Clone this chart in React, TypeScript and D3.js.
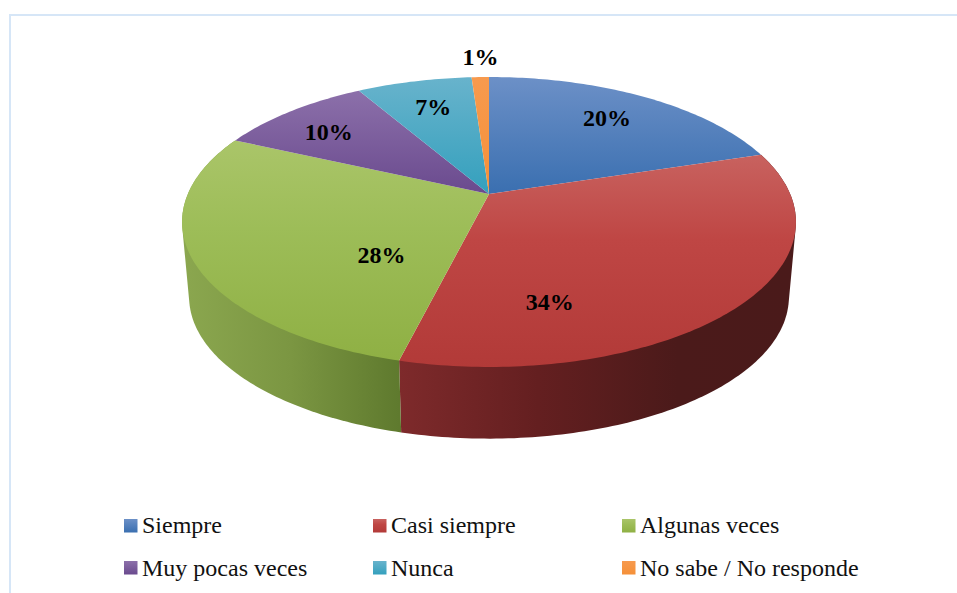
import React from "react";
import * as d3 from "d3";

const categories = ["Siempre", "Casi siempre", "Algunas veces", "Muy pocas veces", "Nunca", "No sabe / No responde"];
const values = [20.2, 33.7, 27.9, 9.8, 7.3, 1.1];
const valueLabels = ["20%", "34%", "28%", "10%", "7%", "1%"];

const topColors = [
  ["#6c90c7", "#3a6fb0"],
  ["#c8625f", "#b23a38"],
  ["#aac569", "#8fb044"],
  ["#8c70aa", "#6a4a8e"],
  ["#68b3cc", "#34a0bd"],
  ["#f79a4e", "#f59038"],
];
const wallStops: Record<number, [number, string][]> = {
  1: [[0, "#7e2a2b"], [0.35, "#641f20"], [0.7, "#4b1a1a"], [1, "#4a1a1a"]],
  2: [[0, "#8ba74f"], [0.5, "#7b9642"], [1, "#5f7a2e"]],
};
const labelNudge = [[20, -6], [-82, 54], [64, 31], [-36, -2], [-8, -7], [-3, -54]];

const W = 957, H = 593;
const cx = 489, apexY = 194;
const d = 5.18, kx = 1560, ky = 723;
const ellipseMidY = 222, wallDrop = 75, wallScale = 0.977;
const serif = "'Liberation Serif', 'Times New Roman', serif";

function proj(theta: number, r = 1): [number, number] {
  const x = r * Math.sin(theta), y = -r * Math.cos(theta);
  const den = d - y;
  return [cx + (kx * x) / den, apexY + (ky * y) / den];
}
function projBottom(theta: number): [number, number] {
  const [px, py] = proj(theta);
  return [cx + (px - cx) * wallScale, ellipseMidY + wallDrop + (py - ellipseMidY) * wallScale];
}
const arcPts = (a0: number, a1: number, f: (t: number) => [number, number]) => {
  const n = Math.max(4, Math.ceil(Math.abs(a1 - a0) * 60));
  return d3.range(n + 1).map((i) => f(a0 + ((a1 - a0) * i) / n));
};

const line = d3.line().curve(d3.curveLinear);
const pie = d3.pie<number>().sort(null).value((v) => v);
const slices = pie(values);

const legendX = d3.scalePoint<number>().domain([0, 1, 2]).range([124, 622]);
const legendY = d3.scalePoint<number>().domain([0, 1]).range([519, 561]);

export default function App() {
  return (
    <svg width={W} height={H} viewBox={`0 0 ${W} ${H}`}
      style={{ position: "absolute", left: 0, top: 0, display: "block", background: "#fff" }}>
      <defs>
        {slices.map((s, i) => (
          <linearGradient key={i} id={`top${i}`} x1="0" y1="0" x2="0" y2="1">
            <stop offset="0" stopColor={topColors[i][0]} />
            <stop offset={i === 1 || i === 2 ? 0.4 : 1} stopColor={i === 1 ? "#bf4644" : i === 2 ? "#9dbd58" : topColors[i][1]} />
            <stop offset="1" stopColor={topColors[i][1]} />
          </linearGradient>
        ))}
        {slices.map((s, i) => {
          if (!wallStops[i]) return null;
          const xs = arcPts(s.startAngle, s.endAngle, proj).map((p) => p[0]);
          const lo = d3.min(xs)!, hi = d3.max(xs)!;
          return (
            <linearGradient key={i} id={`wall${i}`} gradientUnits="userSpaceOnUse"
              x1={lo} y1="0" x2={hi} y2="0">
              {wallStops[i].map(([o, c]) => <stop key={o} offset={o} stopColor={c} />)}
            </linearGradient>
          );
        })}
      </defs>

      <path d="M957,15 H10 V593" fill="none" stroke="#d6e6f7" strokeWidth={2} />

      {slices.map((s, i) => wallStops[i] ? (
        <path key={i} fill={`url(#wall${i})`}
          d={line(d3.polygonHull([...arcPts(s.startAngle, s.endAngle, proj), ...arcPts(s.endAngle, s.startAngle, projBottom)])!)! + "Z"} />
      ) : null)}

      {slices.map((s, i) => (
        <path key={i} fill={`url(#top${i})`}
          d={line([[cx, apexY], ...arcPts(s.startAngle, s.endAngle, proj)])! + "Z"} />
      ))}

      {slices.map((s, i) => {
        const [x, y] = proj((s.startAngle + s.endAngle) / 2, 0.6);
        return (
          <text key={i} x={x + labelNudge[i][0]} y={y + labelNudge[i][1]} textAnchor="middle"
            fontFamily={serif} fontWeight="bold" fontSize={24} fill="#000">
            {valueLabels[i]}
          </text>
        );
      })}

      {categories.map((c, i) => {
        const row = Math.floor(i / 3);
        const x = legendX(i % 3)!, y = legendY(row)!;
        return (
          <g key={c}>
            <rect x={x} y={y} width={13.5} height={13.5} fill={`url(#top${i})`} />
            <text x={x + 18} y={y + 14 + row} fontFamily={serif} fontSize={24} fill="#111">{c}</text>
          </g>
        );
      })}
    </svg>
  );
}
